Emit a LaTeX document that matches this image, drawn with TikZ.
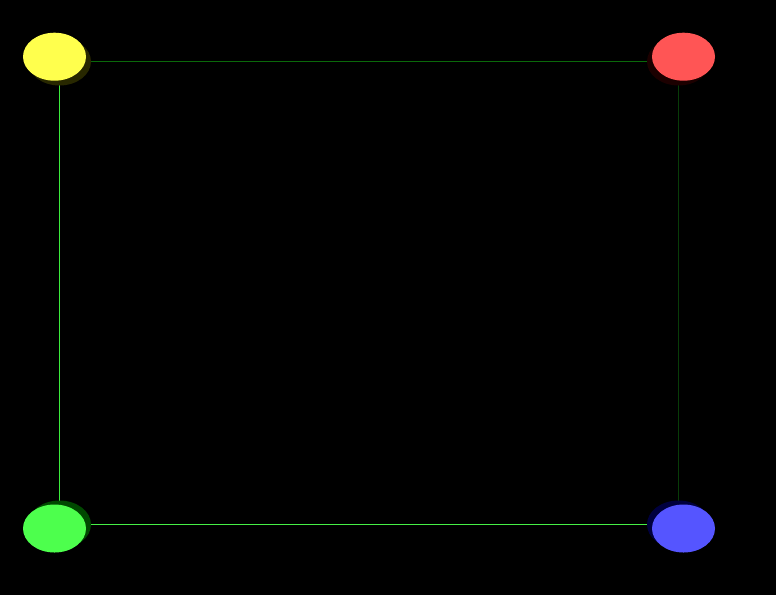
\documentclass[tikz,border=0pt]{standalone}
\usepackage{xcolor}
\usepackage{tikz}
\usetikzlibrary{shapes.geometric, backgrounds}
\definecolor{VYellow}{RGB}{255,255,77}
\definecolor{VRed}{RGB}{255,85,85}
\definecolor{VGreen}{RGB}{77,255,77}
\definecolor{VBlue}{RGB}{85,85,255}
\definecolor{ShYellow}{RGB}{40,40,0}
\definecolor{ShRed}{RGB}{28,0,0}
\definecolor{ShGreen}{RGB}{0,72,0}
\definecolor{ShBlue}{RGB}{0,0,62}
\definecolor{EdgeTop}{RGB}{10,105,10}
\definecolor{EdgeLeft}{RGB}{60,235,60}
\definecolor{EdgeRight}{RGB}{8,60,8}
\definecolor{EdgeBottom}{RGB}{70,240,70}
\tikzset{
    vertex/.style={
        ellipse, draw=none, minimum width=63pt, minimum height=48pt, inner sep=0pt
    },
    edgeline/.style={
        line width=1pt
    }
}

\begin{document}
\begin{tikzpicture}[x=1pt, y=-1pt]
    \useasboundingbox (0,0) rectangle (776,595);

    % --- SHADOWS ---
    \node[vertex, fill=ShYellow] (ys) at (59.5,61.5) {};
    \node[vertex, fill=ShRed] (rs) at (678.5,61.5) {};
    \node[vertex, fill=ShGreen] (gs) at (59.5,524.5) {};
    \node[vertex, fill=ShBlue] (bs) at (678.5,524.5) {};

    % --- BACKGROUND AND EDGES ---
    \begin{scope}[on background layer]
        \fill[black] (0,0) rectangle (776,595);
        \draw[edgeline, EdgeTop] (ys.center) -- (rs.center);
        \draw[edgeline, EdgeLeft] (ys.center) -- (gs.center);
        \draw[edgeline, EdgeRight] (rs.center) -- (bs.center);
        \draw[edgeline, EdgeBottom] (gs.center) -- (bs.center);
    \end{scope}

    % --- VERTICES ---
    \node[vertex, fill=VYellow] (y) at (54.5,56.7) {};
    \node[vertex, fill=VRed] (r) at (683.5,56.7) {};
    \node[vertex, fill=VGreen] (g) at (54.5,528.5) {};
    \node[vertex, fill=VBlue] (b) at (683.5,528.5) {};
\end{tikzpicture}
\end{document}
